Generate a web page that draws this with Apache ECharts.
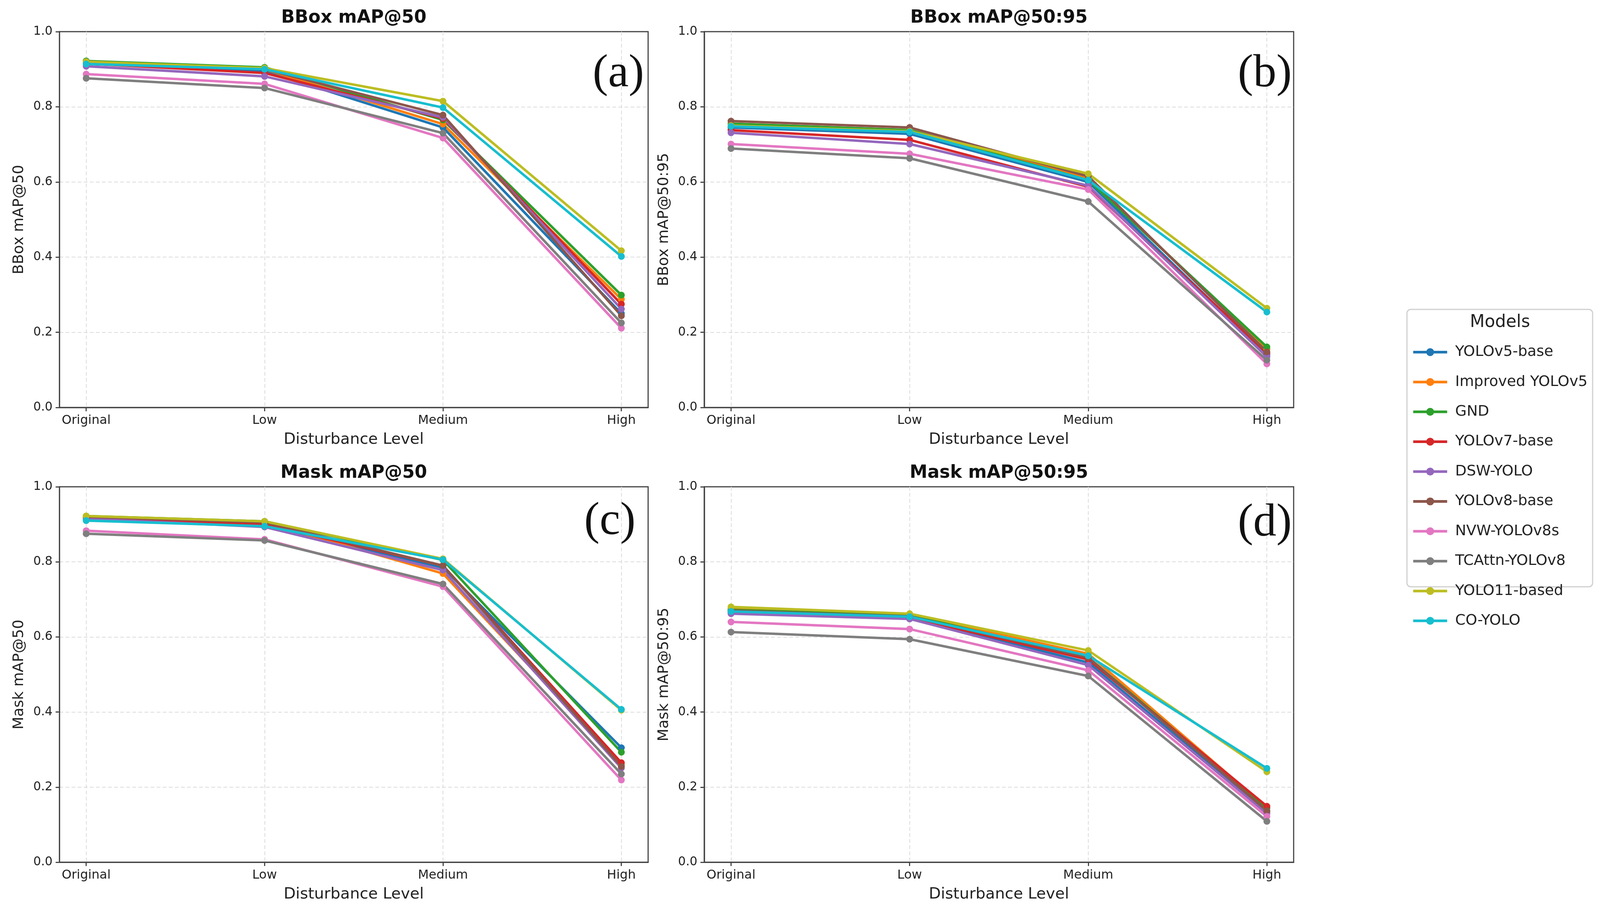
<!DOCTYPE html>
<html>
<head>
<meta charset="utf-8">
<script src="https://cdn.jsdelivr.net/npm/echarts@6/dist/echarts.min.js"></script>
<style>
  html, body { margin: 0; padding: 0; background: #fff; overflow: hidden; }
  #chart { width: 100vw; height: 100vh; }
</style>
</head>
<body>
<div id="chart"></div>
<script>
const levels = ['Original', 'Low', 'Medium', 'High'];
const models = ['YOLOv5-base', 'Improved YOLOv5', 'GND', 'YOLOv7-base', 'DSW-YOLO',
                'YOLOv8-base', 'NVW-YOLOv8s', 'TCAttn-YOLOv8', 'YOLO11-based', 'CO-YOLO'];
const colors = ['#1f77b4', '#ff7f0e', '#2ca02c', '#d62728', '#9467bd',
                '#8c564b', '#e377c2', '#7f7f7f', '#bcbd22', '#17becf'];

// one row per model, columns follow `levels`
const bboxMap50 = [
    [0.915, 0.895, 0.745, 0.250],
    [0.918, 0.900, 0.754, 0.288],
    [0.922, 0.905, 0.765, 0.299],
    [0.915, 0.890, 0.769, 0.275],
    [0.908, 0.881, 0.772, 0.262],
    [0.920, 0.900, 0.778, 0.244],
    [0.887, 0.861, 0.717, 0.211],
    [0.876, 0.850, 0.730, 0.225],
    [0.920, 0.903, 0.815, 0.417],
    [0.914, 0.900, 0.798, 0.402],
];
const bboxMap5095 = [
    [0.745, 0.728, 0.600, 0.140],
    [0.755, 0.738, 0.610, 0.155],
    [0.755, 0.738, 0.605, 0.161],
    [0.738, 0.712, 0.587, 0.145],
    [0.731, 0.701, 0.590, 0.135],
    [0.762, 0.745, 0.615, 0.148],
    [0.701, 0.675, 0.580, 0.116],
    [0.689, 0.663, 0.548, 0.126],
    [0.750, 0.735, 0.622, 0.264],
    [0.748, 0.733, 0.605, 0.254],
];
const maskMap50 = [
    [0.915, 0.895, 0.785, 0.305],
    [0.920, 0.905, 0.769, 0.260],
    [0.922, 0.908, 0.805, 0.293],
    [0.918, 0.900, 0.790, 0.265],
    [0.915, 0.893, 0.778, 0.251],
    [0.920, 0.905, 0.790, 0.255],
    [0.883, 0.860, 0.734, 0.219],
    [0.875, 0.857, 0.741, 0.235],
    [0.922, 0.908, 0.808, 0.405],
    [0.910, 0.895, 0.806, 0.407],
];
const maskMap5095 = [
    [0.665, 0.650, 0.532, 0.135],
    [0.675, 0.660, 0.555, 0.145],
    [0.672, 0.658, 0.545, 0.145],
    [0.668, 0.652, 0.540, 0.149],
    [0.662, 0.648, 0.525, 0.130],
    [0.670, 0.655, 0.545, 0.137],
    [0.640, 0.621, 0.511, 0.122],
    [0.613, 0.594, 0.496, 0.109],
    [0.680, 0.662, 0.564, 0.241],
    [0.668, 0.654, 0.550, 0.250],
];

const panels = [
    { title: 'BBox mAP@50',    yName: 'BBox mAP@50',    tag: '(a)', values: bboxMap50 },
    { title: 'BBox mAP@50:95', yName: 'BBox mAP@50:95', tag: '(b)', values: bboxMap5095 },
    { title: 'Mask mAP@50',    yName: 'Mask mAP@50',    tag: '(c)', values: maskMap50 },
    { title: 'Mask mAP@50:95', yName: 'Mask mAP@50:95', tag: '(d)', values: maskMap5095 },
];

// layout is written for a 4335x2337 canvas and scaled to whatever the viewport is
const REF_W = 4335, REF_H = 2337;
const boxes = [
    { left: 161,  top: 81,   width: 1595, height: 962 },
    { left: 1908, top: 81,   width: 1597, height: 962 },
    { left: 161,  top: 1246, width: 1595, height: 961 },
    { left: 1908, top: 1246, width: 1597, height: 961 },
];
const tagPos = [[1745, 190], [3500, 190], [1722, 1336], [3500, 1340]];

const FONT = '"DejaVu Sans", sans-serif';
const INK = '#222';
const SPINE = '#444';

const el = document.getElementById('chart');
const chart = echarts.init(el, null, { renderer: 'canvas' });

function build() {
    const W = el.clientWidth, H = el.clientHeight;
    const sx = W / REF_W, sy = H / REF_H;
    const s = Math.sqrt(sx * sy);
    const X = v => v * sx, Y = v => v * sy, S = v => v * s;

    const gridLine = { color: '#dcdcdc', width: S(2), type: [S(10), S(6)] };

    const grid = boxes.map(b => ({
        left: X(b.left), top: Y(b.top), width: X(b.width), height: Y(b.height),
        show: true, borderColor: SPINE, borderWidth: S(3), backgroundColor: '#fff',
    }));

    const xAxis = panels.map((p, i) => ({
        type: 'value', gridIndex: i, min: -0.15, max: 3.15,
        name: 'Disturbance Level', nameLocation: 'middle', nameGap: S(64),
        nameTextStyle: { fontFamily: FONT, fontSize: S(41), color: INK },
        axisLine: { show: true, onZero: false, lineStyle: { color: SPINE, width: S(3) } },
        axisTick: { show: true, length: S(10), customValues: [0, 1, 2, 3], lineStyle: { color: SPINE, width: S(3) } },
        axisLabel: {
            customValues: [0, 1, 2, 3], margin: S(18),
            fontFamily: FONT, fontSize: S(33), color: INK,
            formatter: v => levels[Math.round(v)],
        },
        splitLine: { show: true, lineStyle: gridLine },
    }));

    const yAxis = panels.map((p, i) => ({
        type: 'value', gridIndex: i, min: 0, max: 1, interval: 0.2,
        name: p.yName, nameLocation: 'middle', nameGap: S(86),
        nameTextStyle: { fontFamily: FONT, fontSize: S(39), color: INK },
        axisLine: { show: true, onZero: false, lineStyle: { color: SPINE, width: S(3) } },
        axisTick: { show: true, length: S(10), lineStyle: { color: SPINE, width: S(3) } },
        axisLabel: {
            margin: S(18), fontFamily: FONT, fontSize: S(32), color: INK,
            formatter: v => v.toFixed(1),
        },
        splitLine: { show: true, showMinLine: false, showMaxLine: false, lineStyle: gridLine },
    }));

    const series = [];
    panels.forEach((p, pi) => {
        models.forEach((m, mi) => {
            series.push({
                type: 'line', name: m,
                xAxisIndex: pi, yAxisIndex: pi,
                data: p.values[mi].map((v, li) => [li, v]),
                symbol: 'circle', symbolSize: S(18),
                lineStyle: { width: S(6.5), color: colors[mi] },
                itemStyle: { color: colors[mi] },
                emphasis: { disabled: true },
            });
        });
    });

    const title = panels.map((p, i) => ({
        text: p.title,
        left: X(boxes[i].left + boxes[i].width / 2),
        top: Y(boxes[i].top) - S(60),
        textAlign: 'center',
        padding: 0,
        textStyle: { fontFamily: FONT, fontSize: S(47), fontWeight: 'bold', color: '#111' },
    }));

    const graphic = [
        {
            type: 'rect', z: 1,
            shape: { x: X(3812), y: Y(792), width: X(503), height: Y(710), r: S(10) },
            style: { fill: '#fff', stroke: '#d0d0d0', lineWidth: S(3) },
        },
        {
            type: 'text', z: 2, x: X(4064), y: Y(826),
            style: { text: 'Models', font: `${S(45)}px "DejaVu Sans"`, fill: INK, align: 'center', verticalAlign: 'middle' },
        },
        ...panels.map((p, i) => ({
            type: 'text', z: 50, x: X(tagPos[i][0]), y: Y(tagPos[i][1]),
            style: { text: p.tag, font: `${S(122)}px "Liberation Serif"`, fill: '#111', align: 'right', verticalAlign: 'middle' },
        })),
    ];

    const itemH = S(26);
    chart.setOption({
        animation: false,
        backgroundColor: '#fff',
        title,
        grid,
        xAxis,
        yAxis,
        legend: {
            orient: 'vertical', left: X(3820), top: Y(890) - itemH / 2,
            itemWidth: X(92), itemHeight: itemH, itemGap: Y(63.7) - itemH,
            data: models, z: 5,
            lineStyle: { width: S(7) },
            textStyle: { fontFamily: FONT, fontSize: S(39), color: INK, padding: [0, 0, 0, S(16)] },
        },
        graphic,
        series,
    }, true);
}

build();
window.addEventListener('resize', () => { chart.resize(); build(); });
</script>
</body>
</html>
